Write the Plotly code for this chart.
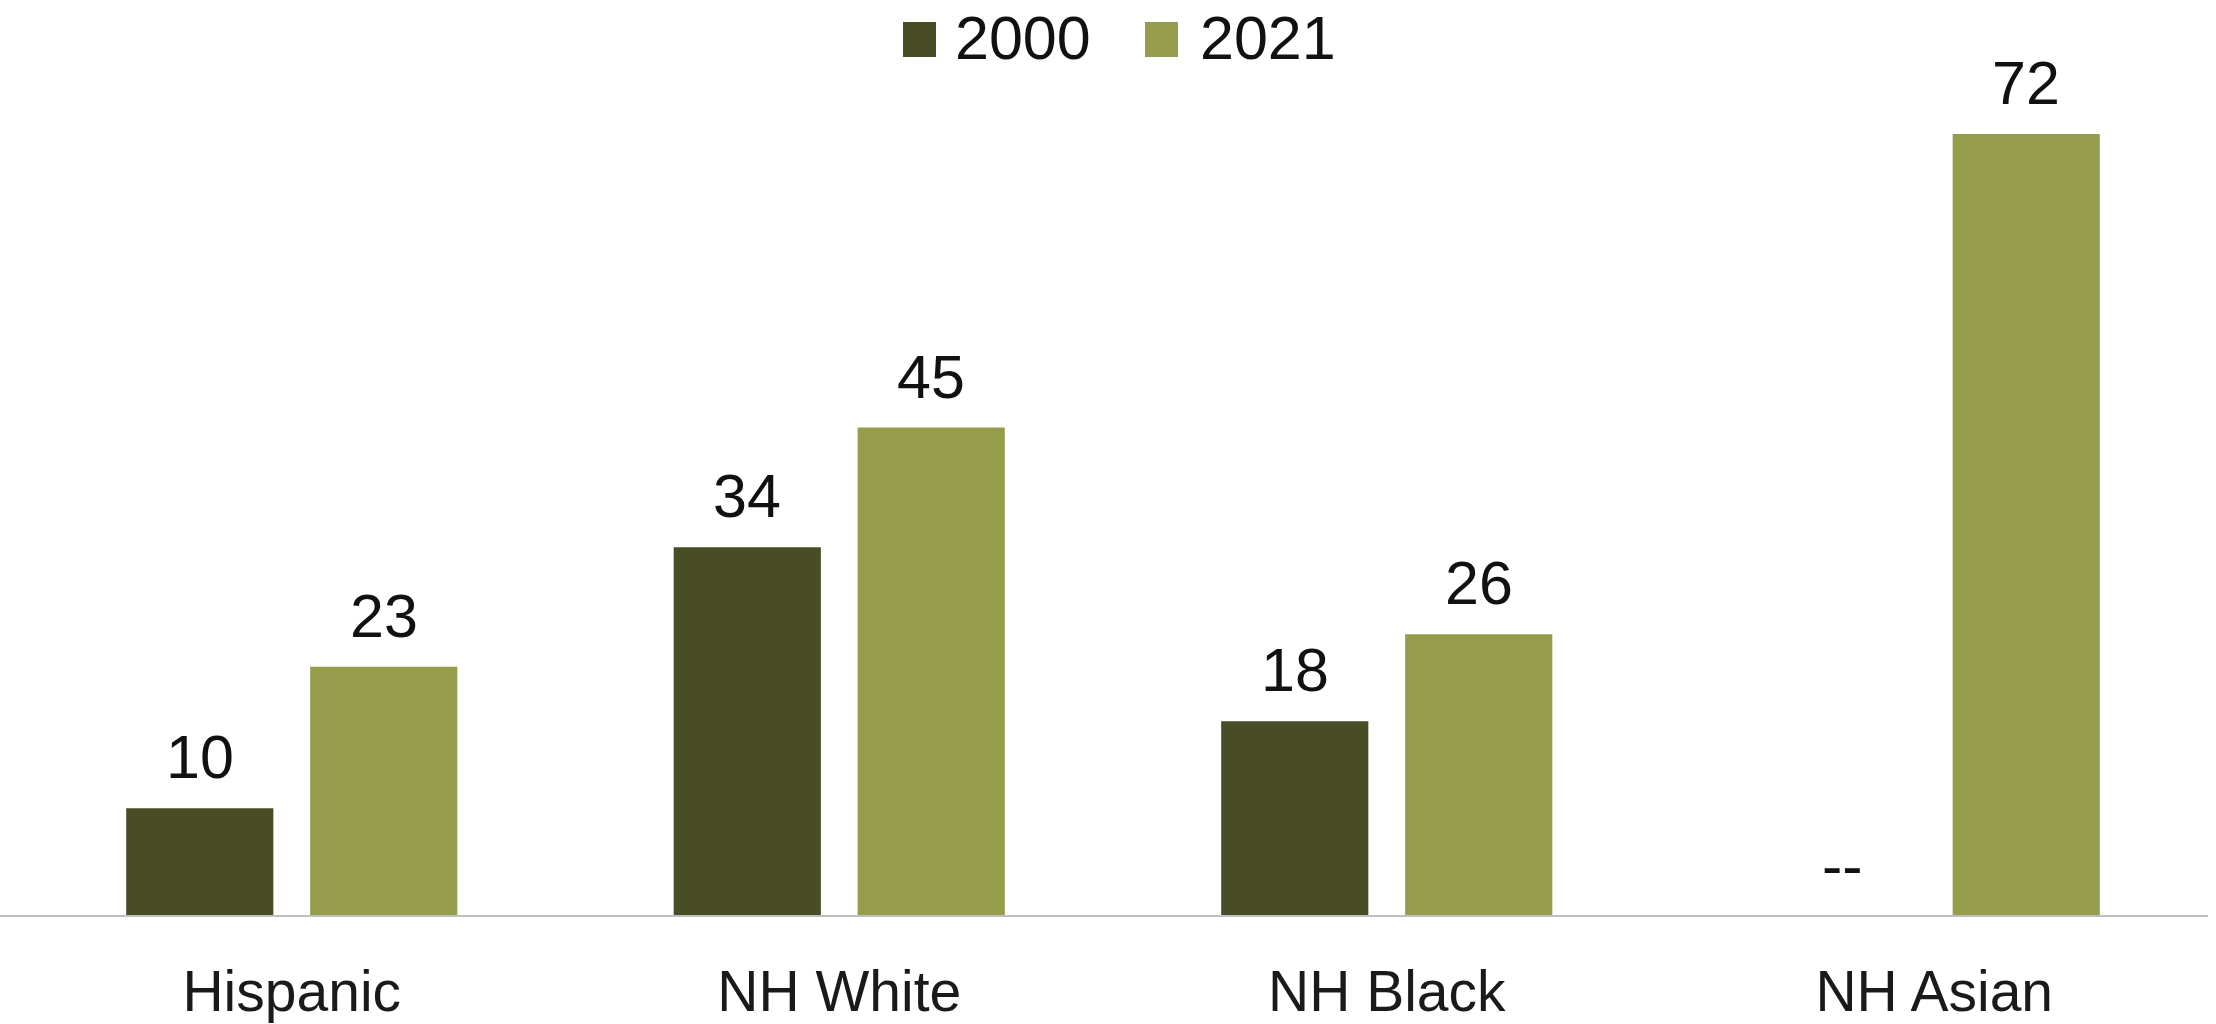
import plotly.graph_objects as go

categories = ["Hispanic", "NH White", "NH Black", "NH Asian"]
years = ["2000", "2021"]
values_2000 = [10, 34, 18, None]
values_2021 = [23, 45, 26, 72]
colors = {"2000": "#494D26", "2021": "#959D4B"}

W, H = 2216, 1024
ML, MR, MT, MB = 18, 8, 60, 107
BARGAP = 0.328
GROUPGAP = 0.2
YMAX = 78.8

fig = go.Figure()
for yr, vals in zip(years, [values_2000, values_2021]):
    fig.add_trace(go.Bar(x=categories, y=vals, name=yr, marker_color=colors[yr],
                         marker_line_width=0, showlegend=False))

# data labels
slot = (1 - BARGAP) / 2
for k, (yr, vals) in enumerate(zip(years, [values_2000, values_2021])):
    off = (k - 0.5) * slot
    for i, v in enumerate(vals):
        fig.add_annotation(x=i + off, y=(v if v is not None else 0), xref="x", yref="y",
                           text=(str(v) if v is not None else "--"),
                           showarrow=False, yanchor="bottom", yshift=15,
                           font=dict(family="Liberation Sans", size=61, color="#111111"))

# manual legend
pw, ph = W - ML - MR, H - MT - MB
def px(x):
    return (x - ML) / pw
def py(y):
    return (H - MB - y) / ph

legend_items = [("2000", 903, 953), ("2021", 1145, 1198)]
for yr, sx, tx in legend_items:
    fig.add_shape(type="rect", xref="paper", yref="paper",
                  x0=px(sx), x1=px(sx + 33), y0=py(57), y1=py(22),
                  fillcolor=colors[yr], line_width=0)
    fig.add_annotation(xref="paper", yref="paper", x=px(tx), y=py(38), text=yr,
                       showarrow=False, xanchor="left", yanchor="middle",
                       font=dict(family="Liberation Sans", size=61, color="#111111"))

# baseline
fig.add_shape(type="line", xref="paper", yref="y", x0=px(0), x1=1.0, y0=0, y1=0,
              line=dict(color="#BFBFBF", width=4))

fig.update_layout(
    width=W, height=H,
    margin=dict(l=ML, r=MR, t=MT, b=MB, autoexpand=False),
    barmode="group", bargap=BARGAP, bargroupgap=GROUPGAP,
    plot_bgcolor="white", paper_bgcolor="white",
    showlegend=False,
)
fig.update_xaxes(showgrid=False, showline=False, zeroline=False, automargin=False,
                 ticks="outside", ticklen=25, tickcolor="rgba(0,0,0,0)",
                 tickfont=dict(family="Liberation Sans", size=57, color="#1a1a1a"))
fig.update_yaxes(range=[0, YMAX], visible=False, showgrid=False, zeroline=False,
                 automargin=False)

fig.write_html("out.html", config={"displayModeBar": False},
               post_script="document.body.style.margin='0';document.body.style.overflow='hidden';")
